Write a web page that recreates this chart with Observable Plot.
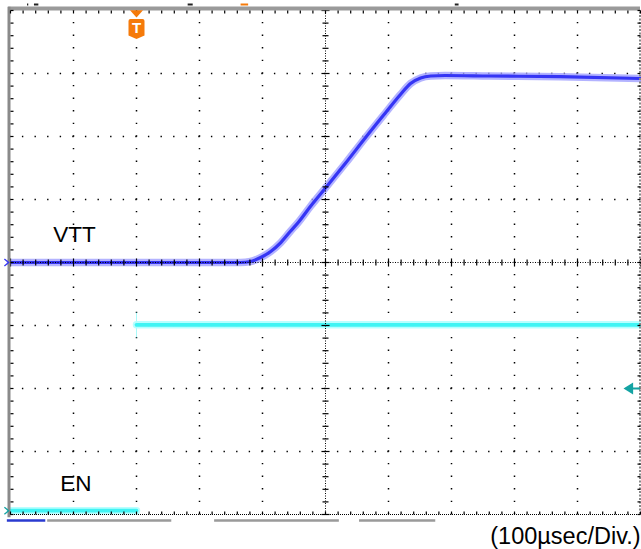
<!DOCTYPE html>
<html>
<head>
<meta charset="utf-8">
<script src="https://cdn.jsdelivr.net/npm/d3@7"></script>
<script src="https://cdn.jsdelivr.net/npm/@observablehq/plot@0.6"></script>
<style>
  html, body { margin: 0; padding: 0; background: #fff; }
  #chart svg { display: block; }
</style>
</head>
<body>
<div id="chart"></div>
<script>
// ---- Data (time in µs, 100 µs/div; vertical in divisions) ----
const vttTime = [-200, 100, 165, 181, 197, 213, 229, 244, 256, 276, 300, 332, 363, 395, 419, 435, 451, 467, 490, 560, 673, 800];
const vttDiv  = [0, 0, 0, 0.016, 0.079, 0.175, 0.317, 0.492, 0.627, 0.889, 1.183, 1.579, 1.976, 2.373, 2.667, 2.841, 2.929, 2.960, 2.968, 2.96, 2.95, 2.92];

const enTime = [-200, 0, 0, 800];
const enDiv  = [-3.94, -3.94, -0.99, -0.99];
const enSeg  = ["low", "low", "high", "high"];

const traceLabels = ["VTT", "EN"];
const caption = "(100µsec/Div.)";

const majorT = [-100, 0, 100, 200, 400, 500, 600, 700];
const majorV = [-3, -2, -1, 1, 2, 3];
const centerT = 300, centerV = 0;
const minorT = d3.range(-200, 800.001, 20);
const minorV = d3.range(-4, 4.001, 0.2).map(v => Math.round(v * 10) / 10);

const triggerTime = 0;
const ch2Marker = -2;
const statusBars = [
  {t1: -205, t2: -144, kind: "ch"},
  {t1: -141, t2: 56, kind: "mem"},
  {t1: 124, t2: 322, kind: "mem"},
  {t1: 354, t2: 475, kind: "mem"}
];
const topMarks = [
  {t1: -173, t2: -171, kind: "k"},
  {t1: -162, t2: -155, kind: "k"},
  {t1: 82, t2: 90, kind: "k"},
  {t1: 166, t2: 178, kind: "o"},
  {t1: 506, t2: 512, kind: "k"}
];

const vtt = vttTime.map((t, i) => ({t, v: vttDiv[i]}));
const en = enTime.map((t, i) => ({t, v: enDiv[i], seg: enSeg[i]}));

// custom symbols
const seg = (x1, y1, x2, y2) => ({draw(ctx, size) {
  const r = Math.sqrt(size / Math.PI);
  ctx.moveTo(x1 * r, y1 * r); ctx.lineTo(x2 * r, y2 * r);
}});
const hline = seg(-1, 0, 1, 0), vline = seg(0, -1, 0, 1);
const tickDown = seg(0, 0, 0, 1), tickUp = seg(0, 0, 0, -1);
const tickRight = seg(0, 0, 1, 0), tickLeft = seg(0, 0, -1, 0);
const shield = {draw(ctx, size) {
  const r = Math.sqrt(size / Math.PI);
  const w = 0.8 * r;
  ctx.moveTo(-w + 2, -r); ctx.lineTo(w - 2, -r);
  ctx.quadraticCurveTo(w, -r, w, -r + 2);
  ctx.lineTo(w, 0.65 * r); ctx.lineTo(0, r); ctx.lineTo(-w, 0.65 * r);
  ctx.lineTo(-w, -r + 2); ctx.quadraticCurveTo(-w, -r, -w + 2, -r);
  ctx.closePath();
}};
const arrowLeft = {draw(ctx, size) {
  const r = Math.sqrt(size / Math.PI);
  ctx.moveTo(-r, 0); ctx.lineTo(r * 0.6, -r); ctx.lineTo(r * 0.6, r); ctx.closePath();
}};
const arrowDown = {draw(ctx, size) {
  const r = Math.sqrt(size / Math.PI);
  ctx.moveTo(-r, -r * 0.5); ctx.lineTo(r, -r * 0.5); ctx.lineTo(0, r * 0.6); ctx.closePath();
}};
const chevron = {draw(ctx, size) {
  const r = Math.sqrt(size / Math.PI);
  ctx.moveTo(-r * 0.6, -r); ctx.lineTo(r * 0.6, 0); ctx.lineTo(-r * 0.6, r);
}};

const orange = "#f57a0a";
const teal = "#14a3a3";
const blue = "#3535f5";
const cyan = "#40f4f4";
const font = "'Liberation Sans', Arial, sans-serif";

const plot = Plot.plot({
  width: 641,
  height: 549,
  marginLeft: 10,
  marginRight: 1,
  marginTop: 10,
  marginBottom: 35,
  x: {domain: [-200, 800], axis: null},
  y: {domain: [-4, 4], axis: null},
  style: {background: "#fff", fontFamily: font},
  marks: [
    // dotted major grid
    Plot.ruleX(majorT, {y1: -4, y2: 4, stroke: "#000", strokeWidth: 1.5, strokeDasharray: "1.4,11.2", strokeDashoffset: 0.7}),
    Plot.ruleY(majorV, {x1: -200, x2: 800, stroke: "#000", strokeWidth: 1.5, strokeDasharray: "1.4,11.2", strokeDashoffset: 0.7}),

    // traces
    Plot.line(vtt, {x: "t", y: "v", curve: "monotone-x", stroke: "#a0a0ff", strokeWidth: 7.5, strokeOpacity: 0.8}),
    Plot.line(vtt, {x: "t", y: "v", curve: "monotone-x", stroke: blue, strokeWidth: 3.2}),
    Plot.ruleX([triggerTime], {y1: -0.8, y2: -1.2, stroke: cyan, strokeWidth: 1, strokeOpacity: 0.45}),
    Plot.line(en, {x: "t", y: "v", z: "seg", stroke: "#b0ffff", strokeWidth: 7.5, strokeOpacity: 0.9}),
    Plot.line(en, {x: "t", y: "v", z: "seg", stroke: cyan, strokeWidth: 3.8}),

    // center lines (fine dotted) with ticks
    Plot.ruleX([centerT], {y1: -4, y2: 4, stroke: "#000", strokeWidth: 1, strokeDasharray: "1,1.5"}),
    Plot.ruleY([centerV], {x1: -200, x2: 800, stroke: "#000", strokeWidth: 1, strokeDasharray: "1,1.5"}),
    Plot.dot(minorV, {x: centerT, y: d => d, symbol: hline, r: d => Number.isInteger(d) ? 4 : 2.2, stroke: "#000", strokeWidth: 1.2, fill: "none"}),
    Plot.dot(minorT, {x: d => d, y: centerV, symbol: vline, r: d => d % 100 === 0 ? 4 : 2.2, stroke: "#000", strokeWidth: 1.2, fill: "none"}),

    // frame edges
    Plot.ruleY([-4], {x1: -200, x2: 800, stroke: "#000", strokeWidth: 1, strokeDasharray: "1,1"}),
    Plot.ruleX([800], {y1: -4, y2: 4, stroke: "#888", strokeWidth: 2, strokeDasharray: "2,1.5", dx: -0.5}),
    Plot.ruleY([4], {x1: -203, x2: 800, stroke: "#9a9a9a", strokeWidth: 4, dy: -2}),
    Plot.ruleX([-200], {y1: -4.05, y2: 4.05, stroke: "#8a8a8a", strokeWidth: 3, dx: -1.5}),
    Plot.dot(minorT, {x: d => d, y: 4, symbol: tickDown, r: 3, stroke: "#000", strokeWidth: 1.2, fill: "none"}),
    Plot.dot(minorT, {x: d => d, y: -4, symbol: tickUp, r: 3, stroke: "#000", strokeWidth: 1.2, fill: "none"}),
    Plot.dot(minorV, {x: -200, y: d => d, symbol: tickRight, r: 3, stroke: "#000", strokeWidth: 1.2, fill: "none"}),
    Plot.dot(minorV, {x: 800, y: d => d, symbol: tickLeft, r: 3, stroke: "#000", strokeWidth: 1.2, fill: "none"}),

    // status bars below and small marks above the graticule
    Plot.ruleY(statusBars, {x1: "t1", x2: "t2", y: -4, dy: 6, stroke: d => d.kind === "ch" ? "#2a3ad0" : "#9a9a9a", strokeWidth: 2.5}),
    Plot.ruleY(topMarks, {x1: "t1", x2: "t2", y: 4, dy: -6, stroke: d => d.kind === "o" ? orange : "#222", strokeWidth: 2}),

    // ground markers on left
    Plot.dot([0], {x: -200, y: d => d, dx: -4, symbol: chevron, r: 3.5, stroke: blue, strokeWidth: 1.3, fill: "none"}),
    Plot.dot([-3.94], {x: -200, y: d => d, dx: -4, symbol: chevron, r: 3.5, stroke: teal, strokeWidth: 1.3, fill: "none"}),

    // channel-2 arrow on right
    Plot.ruleY([ch2Marker], {x1: 786, x2: 800, stroke: teal, strokeWidth: 2}),
    Plot.dot([ch2Marker], {x: 800, y: d => d, dx: -11, symbol: arrowLeft, r: 6, fill: teal}),

    // trigger marker
    Plot.dot([triggerTime], {x: d => d, y: 4, dy: 3, symbol: arrowDown, r: 6.5, fill: orange}),
    Plot.dot([triggerTime], {x: d => d, y: 4, dy: 18.5, symbol: shield, r: 10, fill: orange}),
    Plot.text([triggerTime], {x: d => d, y: 4, dy: 17.5, text: () => "T", fill: "#fff", fontWeight: "bold", fontSize: 15, textAnchor: "middle", lineAnchor: "middle", fontFamily: font}),

    // trace labels
    Plot.text([traceLabels[0]], {x: -132, y: 0.33, text: d => d, textAnchor: "start", lineAnchor: "bottom", fontSize: 22.5, fill: "#000", fontFamily: font}),
    Plot.text([traceLabels[1]], {x: -121, y: -3.63, text: d => d, textAnchor: "start", lineAnchor: "bottom", fontSize: 22.5, fill: "#000", fontFamily: font}),

    // caption
    Plot.text([caption], {frameAnchor: "bottom-right", dy: 29.5, dx: 0, text: d => d, textAnchor: "end", lineAnchor: "bottom", fontSize: 23.5, fill: "#000", fontFamily: font})
  ]
});
document.getElementById("chart").appendChild(plot);
</script>
</body>
</html>
